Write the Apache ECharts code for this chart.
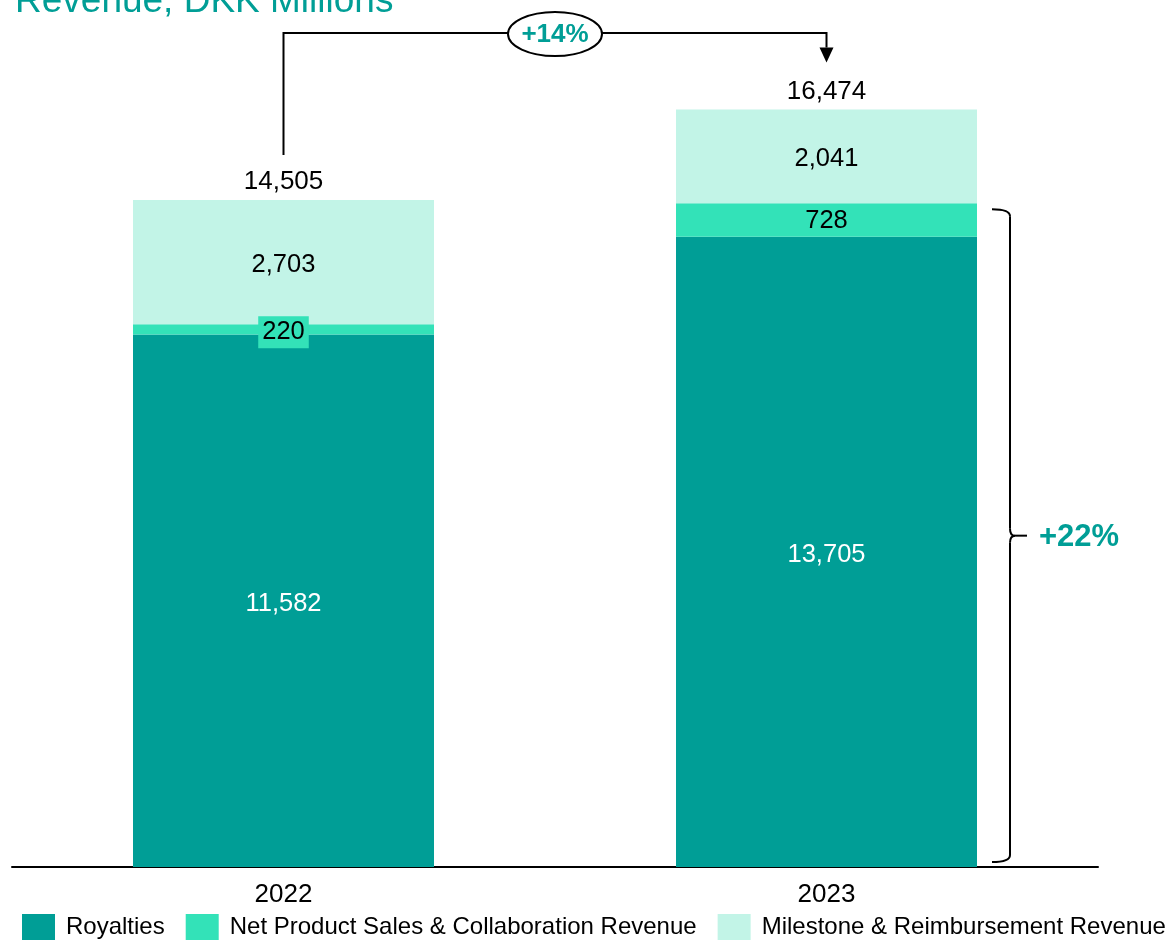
<!DOCTYPE html>
<html>
<head>
<meta charset="utf-8">
<script src="https://cdn.jsdelivr.net/npm/echarts@6/dist/echarts.min.js"></script>
<style>
  html, body { margin: 0; padding: 0; background: #fff; }
  #chart { width: 1171px; height: 940px; }
</style>
</head>
<body>
<div id="chart"></div>
<script>
// Revenue split by stream, DKK millions
const years = ['2022', '2023'];
const royalties = [11582, 13705];
const netProductSales = [220, 728];
const milestones = [2703, 2041];
const totals = [14505, 16474];
const seriesNames = [
  'Royalties',
  'Net Product Sales & Collaboration Revenue',
  'Milestone & Reimbursement Revenue'
];
const titleText = 'Revenue, DKK Millions';
const growthTotal = '+14%';
const growthCore = '+22%';

const TEAL = '#009E96';
const MINT = '#33E2B8';
const PALE = '#C2F4E7';
const FONT = '"Liberation Sans", Arial, Helvetica, sans-serif';
const fmt = v => v.toLocaleString('en-US');

const chart = echarts.init(document.getElementById('chart'), null, { renderer: 'canvas' });

const innerLabel = (color, extra) => Object.assign({
  show: true,
  position: 'inside',
  offset: [0, 3],
  color: color,
  fontFamily: FONT,
  fontSize: 25.5,
  formatter: p => fmt(p.value)
}, extra || {});

// Segments too thin to hold their label get a filled label box
const nspItems = netProductSales.map(v => v < 500
  ? { value: v, label: { backgroundColor: MINT, padding: [4, 4, 2, 4] } }
  : { value: v, label: { offset: [0, 1] } });

chart.setOption({
  animation: false,
  backgroundColor: '#fff',
  textStyle: { fontFamily: FONT },
  grid: { left: 12, right: 73, top: 39.3, bottom: 73, containLabel: false },
  legend: {
    data: seriesNames,
    left: 22,
    top: 914,
    width: 1160,
    padding: 0,
    icon: 'rect',
    itemWidth: 33,
    itemHeight: 27,
    itemGap: 21,
    selectedMode: false,
    textStyle: { fontFamily: FONT, fontSize: 24, color: '#000', padding: [4, 0, 0, 6] }
  },
  xAxis: {
    type: 'category',
    data: years,
    boundaryGap: true,
    axisLine: { show: true, lineStyle: { color: '#000', width: 2 } },
    axisTick: { show: false },
    axisLabel: { color: '#000', fontFamily: FONT, fontSize: 26, margin: 15 }
  },
  yAxis: {
    type: 'value',
    min: 0,
    max: 18000,
    show: false,
    splitLine: { show: false }
  },
  series: [
    {
      name: seriesNames[0], type: 'bar', stack: 'rev', barWidth: 301,
      itemStyle: { color: TEAL },
      label: innerLabel('#fff'),
      data: royalties
    },
    {
      name: seriesNames[1], type: 'bar', stack: 'rev', barWidth: 301,
      itemStyle: { color: MINT },
      label: innerLabel('#000'),
      data: nspItems
    },
    {
      name: seriesNames[2], type: 'bar', stack: 'rev', barWidth: 301,
      itemStyle: { color: PALE },
      label: innerLabel('#000'),
      data: milestones
    },
    {
      name: 'Total', type: 'scatter', symbolSize: 0, silent: true,
      itemStyle: { opacity: 1 },
      label: {
        show: true, position: 'top', distance: 5, color: '#000',
        fontFamily: FONT, fontSize: 26, formatter: p => fmt(p.value[1])
      },
      data: totals.map((v, i) => [i, v])
    }
  ]
});

// Annotations placed from the data coordinates
(function drawAnnotations() {
  const toPx = (i, v) => chart.convertToPixel({ gridIndex: 0 }, [i, v]);
  const t0 = toPx(0, totals[0]);
  const t1 = toPx(1, totals[1]);
  const coreTop = toPx(1, royalties[1] + netProductSales[1]);
  const base = toPx(1, 0);

  const lineY = 33;
  const midX = (t0[0] + t1[0]) / 2;
  const arrowTip = t1[1] - 47;
  const arrowBase = arrowTip - 15;

  const barRight = t1[0] + 301 / 2;
  const tipX = barRight + 15;
  const spineX = barRight + 33;
  const pointX = spineX + 5;
  const braceTop = coreTop[1] + 6;
  const braceBottom = base[1] - 5;
  const braceMid = (braceTop + braceBottom) / 2;
  const r = 7;
  const stroke = { stroke: '#000', lineWidth: 2, fill: null };

  chart.setOption({
    graphic: [
      {
        type: 'text', left: 15, top: -17, silent: true,
        style: { text: titleText, fill: TEAL, font: '37px ' + FONT }
      },
      {
        type: 'polyline', silent: true,
        shape: { points: [[t0[0], t0[1] - 45], [t0[0], lineY], [t1[0], lineY], [t1[0], arrowBase]] },
        style: stroke
      },
      {
        type: 'polygon', silent: true,
        shape: { points: [[t1[0] - 7, arrowBase], [t1[0] + 7, arrowBase], [t1[0], arrowTip]] },
        style: { fill: '#000' }
      },
      {
        type: 'ellipse', silent: true,
        shape: { cx: midX, cy: lineY + 1, rx: 47, ry: 22 },
        style: { fill: '#fff', stroke: '#000', lineWidth: 2 }
      },
      {
        type: 'text', silent: true, x: midX, y: lineY + 2,
        style: { text: growthTotal, fill: TEAL, font: 'bold 26px ' + FONT, align: 'center', verticalAlign: 'middle' }
      },
      {
        type: 'bezierCurve', silent: true,
        shape: { x1: tipX, y1: braceTop, x2: spineX, y2: braceTop + r, cpx1: spineX, cpy1: braceTop },
        style: stroke
      },
      { type: 'line', silent: true, shape: { x1: spineX, y1: braceTop + r, x2: spineX, y2: braceMid - r }, style: stroke },
      {
        type: 'bezierCurve', silent: true,
        shape: { x1: spineX, y1: braceMid - r, x2: pointX, y2: braceMid, cpx1: spineX, cpy1: braceMid },
        style: stroke
      },
      {
        type: 'bezierCurve', silent: true,
        shape: { x1: spineX, y1: braceMid + r, x2: pointX, y2: braceMid, cpx1: spineX, cpy1: braceMid },
        style: stroke
      },
      { type: 'line', silent: true, shape: { x1: spineX, y1: braceMid + r, x2: spineX, y2: braceBottom - r }, style: stroke },
      {
        type: 'bezierCurve', silent: true,
        shape: { x1: spineX, y1: braceBottom - r, x2: tipX, y2: braceBottom, cpx1: spineX, cpy1: braceBottom },
        style: stroke
      },
      { type: 'line', silent: true, shape: { x1: pointX, y1: braceMid, x2: pointX + 12, y2: braceMid }, style: stroke },
      {
        type: 'text', silent: true, x: pointX + 24, y: braceMid + 2,
        style: { text: growthCore, fill: TEAL, font: 'bold 31px ' + FONT, align: 'left', verticalAlign: 'middle' }
      }
    ]
  });
})();
</script>
</body>
</html>
